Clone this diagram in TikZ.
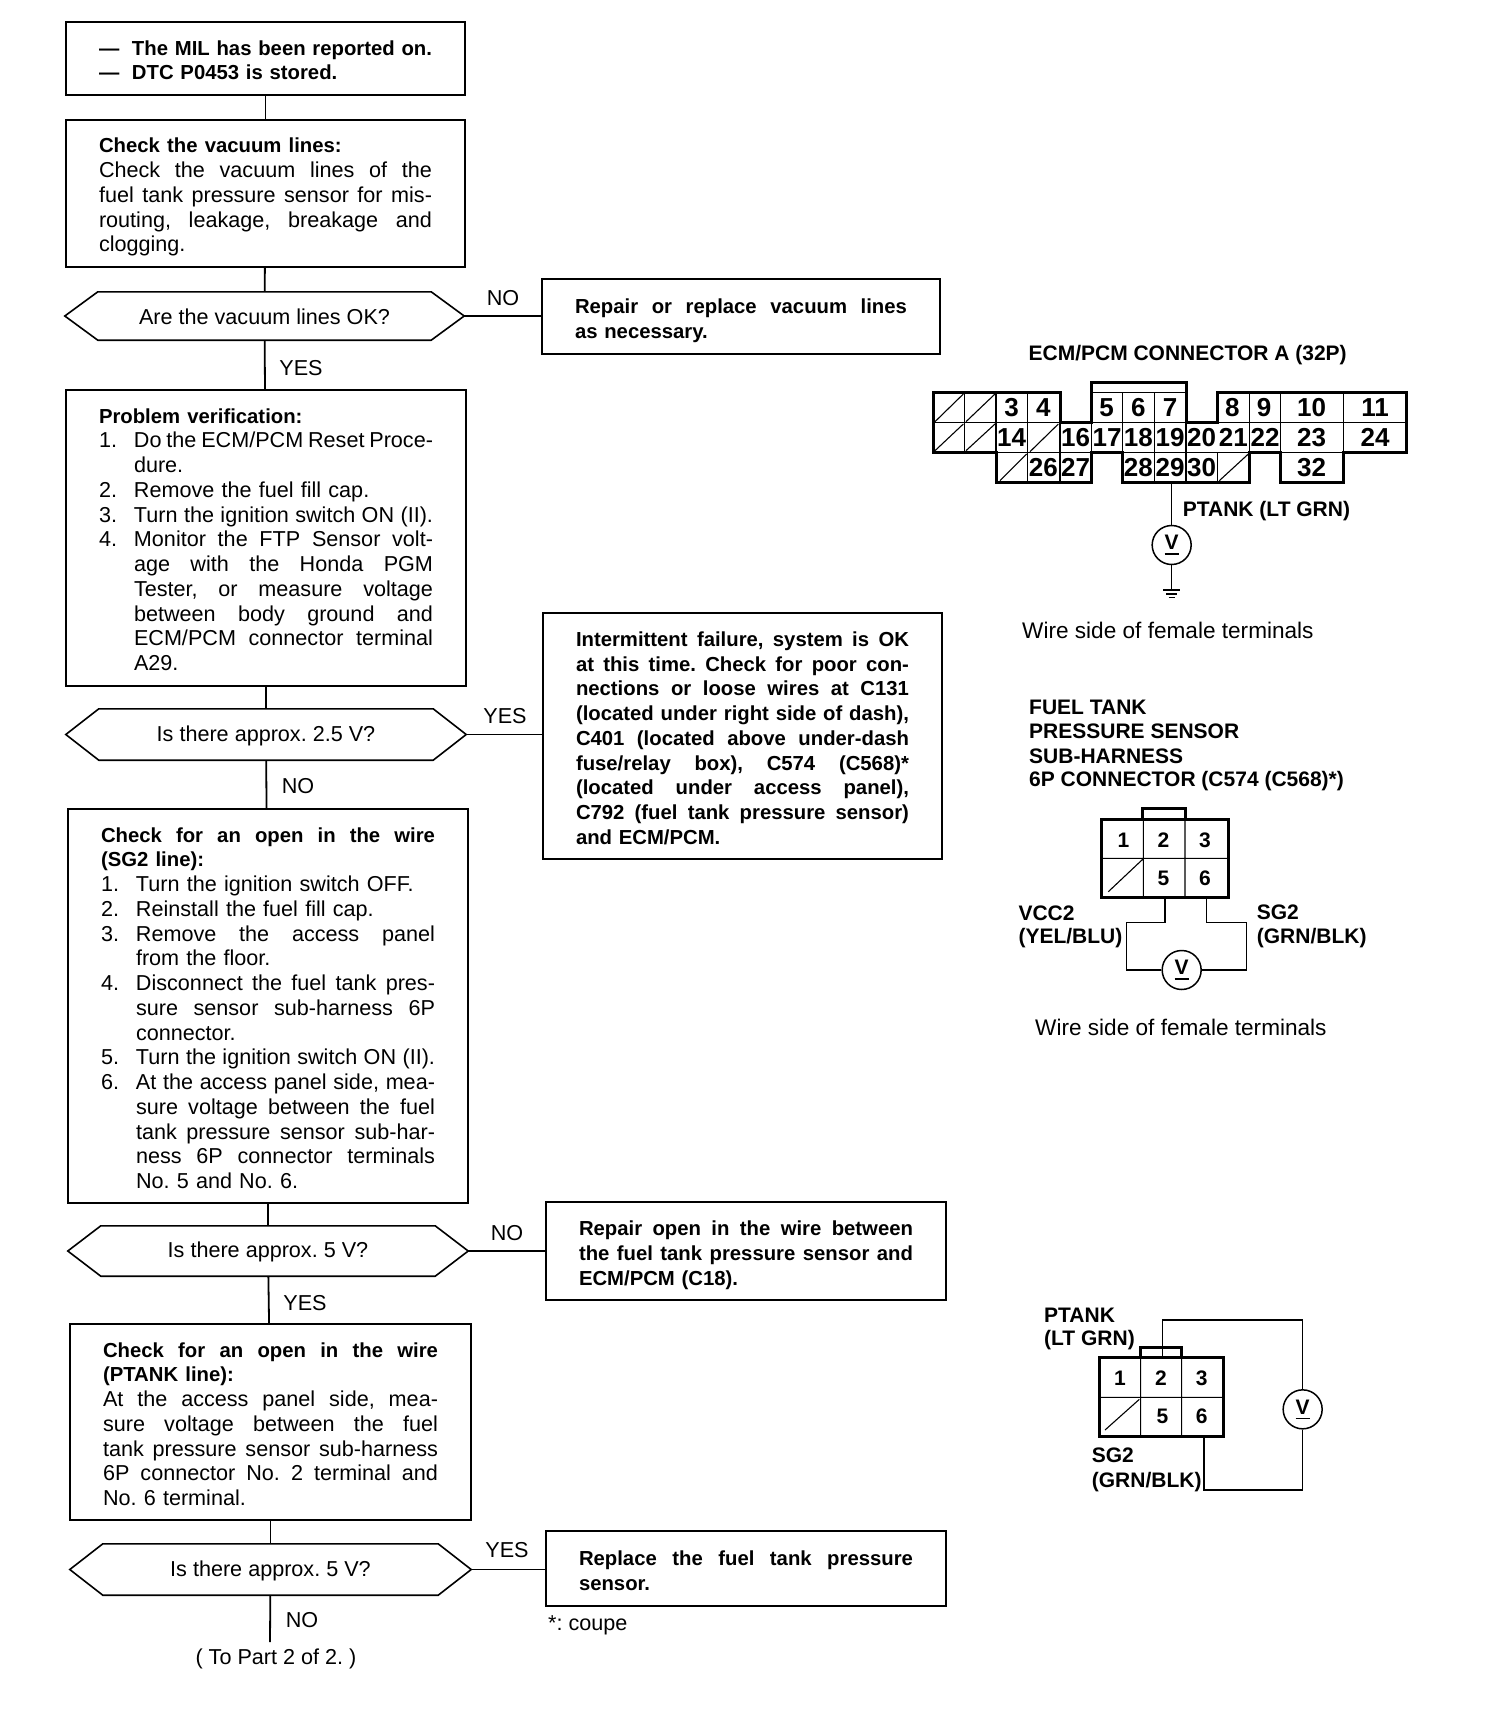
\documentclass[tikz,border=0pt]{standalone}
\usepackage{fontspec}
\setmainfont{Liberation Sans}
\frenchspacing
\newlength{\mywd}
\newcommand{\setsp}{\spaceskip=.278em plus 3em minus .09em\relax\xspaceskip=\spaceskip}
\newcommand{\jln}[2][0pt]{\hbox to\mywd{\setsp\kern#1\relax #2}}
\newcommand{\nln}[2][0pt]{\hbox to\mywd{\kern#1\relax #2\hfil}}
\newcommand{\jit}[2]{\hbox to\mywd{\setsp\hbox to35pt{#1\hfil}#2}}
\newcommand{\nit}[2]{\hbox to\mywd{\hbox to35pt{#1\hfil}#2\hfil}}
\newcommand{\ind}{35pt}
\newcommand{\hd}{\bfseries\fontsize{20.3}{24.75}\selectfont}
\newcommand{\VV}{\vbox{\hbox{V}\kern3.5pt\hrule height 1.6pt}}
\tikzset{
  reg/.style={font=\fontsize{21.6}{24.75}\selectfont},
  bld/.style={font=\fontsize{20.3}{24.75}\selectfont\bfseries},
  lbl/.style={reg,inner sep=0pt},
  blbl/.style={font=\fontsize{21}{24.75}\selectfont\bfseries,inner sep=0pt,anchor=west},
  num/.style={inner sep=0pt,font=\fontsize{26}{26}\selectfont\bfseries},
  numb/.style={inner sep=0pt,font=\fontsize{21}{21}\selectfont\bfseries},
  flow/.style={draw,line width=1.6pt,rectangle,inner xsep=33pt,inner ysep=0pt,reg},
  flowb/.style={flow,bld},
  dec/.style={rectangle,inner sep=0pt},
  wire/.style={line width=1.6pt},
  conn/.style={line width=1.8pt},
  thick out/.style={line width=3pt,line join=miter},
  thin in/.style={line width=1.1pt},
  vmeter/.style={circle,draw,line width=1.5pt,inner sep=0pt,minimum size=39pt,font=\fontsize{21}{21}\selectfont\bfseries},
}
% [style]{name}{x0}{y0}{x1}{y1}{top kern: twice the downward text shift}{lines}
\newcommand{\fbx}[8][flow]{%
  \pgfmathsetmacro{\cx}{(#3+#5)/2}\pgfmathsetmacro{\cy}{(#4+#6)/2}%
  \pgfmathsetmacro{\bw}{#5-#3-66}\pgfmathsetmacro{\bh}{#6-#4}%
  \setlength{\mywd}{\bw pt}%
  \node[#1,text width=\bw pt,minimum height=\bh pt] (#2) at (\cx,\cy) {\vbox{\kern#7pt\relax #8}};}
\newcommand{\dmd}[6]{%
  \pgfmathsetmacro{\cx}{(#2+#4)/2}\pgfmathsetmacro{\cy}{(#3+#5)/2}%
  \pgfmathsetmacro{\bw}{#4-#2}\pgfmathsetmacro{\bh}{#5-#3}%
  \node[dec,minimum width=\bw pt,minimum height=\bh pt] (#1) at (\cx,\cy) {};
  \draw[wire] (#1.west) -- ([xshift=33pt]#1.north west) -- ([xshift=-33pt]#1.north east)
     -- (#1.east) -- ([xshift=-33pt]#1.south east) -- ([xshift=33pt]#1.south west) -- cycle;
  \node[lbl] (#1t) at ([yshift=-1pt]#1) {#6};}
\begin{document}
\begin{tikzpicture}[x=1pt,y=-1pt]
\useasboundingbox (0,0) rectangle (1504,1716);

% --- flow column
\fbx[flowb]{b1}{66}{22}{465}{95}{3.3}{%
  \nln{\hbox to33pt{—\hfil}The MIL has been reported on.}
  \nln{\hbox to33pt{—\hfil}DTC P0453 is stored.}}
\fbx{b2}{66}{120}{465}{267}{7.6}{%
  \nln{\hd Check the vacuum lines:}
  \jln{Check the vacuum lines of the}
  \jln{fuel tank pressure sensor for mis-}
  \jln{routing, leakage, breakage and}
  \nln{clogging.}}
\dmd{d1}{65}{292}{464}{340}{Are the vacuum lines OK?}
\fbx[flowb]{r1}{542}{279}{940}{354}{8.8}{%
  \jln{Repair or replace vacuum lines}
  \nln{as necessary.}}
\fbx{b3}{66}{390}{466}{686}{3.3}{%
  \nln{\hd Problem verification:}
  \jit{1.}{Do the ECM/PCM Reset Proce-}
  \nln[\ind]{dure.}
  \nit{2.}{Remove the fuel fill cap.}
  \jit{3.}{Turn the ignition switch ON (II).}
  \jit{4.}{Monitor the FTP Sensor volt-}
  \jln[\ind]{age with the Honda PGM}
  \jln[\ind]{Tester, or measure voltage}
  \jln[\ind]{between body ground and}
  \jln[\ind]{ECM/PCM connector terminal}
  \nln[\ind]{A29.}}
\dmd{d2}{66}{709}{466}{760}{Is there approx. 2.5 V?}
\fbx[flowb]{r2}{543}{613}{942}{859}{4.4}{%
  \jln{Intermittent failure, system is OK}
  \jln{at this time. Check for poor con-}
  \jln{nections or loose wires at C131}
  \jln{(located under right side of dash),}
  \jln{C401 (located above under-dash}
  \jln{fuse/relay box), C574 (C568)*}
  \jln{(located under access panel),}
  \jln{C792 (fuel tank pressure sensor)}
  \nln{and ECM/PCM.}}
\fbx{b4}{68}{809}{468}{1203}{4.4}{%
  \jln{\hd Check for an open in the wire}
  \nln{\hd (SG2 line):}
  \nit{1.}{Turn the ignition switch OFF.}
  \nit{2.}{Reinstall the fuel fill cap.}
  \jit{3.}{Remove the access panel}
  \nln[\ind]{from the floor.}
  \jit{4.}{Disconnect the fuel tank pres-}
  \jln[\ind]{sure sensor sub-harness 6P}
  \nln[\ind]{connector.}
  \jit{5.}{Turn the ignition switch ON (II).}
  \jit{6.}{At the access panel side, mea-}
  \jln[\ind]{sure voltage between the fuel}
  \jln[\ind]{tank pressure sensor sub-har-}
  \jln[\ind]{ness 6P connector terminals}
  \nln[\ind]{No. 5 and No. 6.}}
\dmd{d3}{68}{1226}{468}{1276}{Is there approx. 5 V?}
\fbx[flowb]{r3}{546}{1202}{946}{1300}{8.8}{%
  \jln{Repair open in the wire between}
  \jln{the fuel tank pressure sensor and}
  \nln{ECM/PCM (C18).}}
\fbx{b5}{70}{1324}{471}{1520}{4.4}{%
  \jln{\hd Check for an open in the wire}
  \nln{\hd (PTANK line):}
  \jln{At the access panel side, mea-}
  \jln{sure voltage between the fuel}
  \jln{tank pressure sensor sub-harness}
  \jln{6P connector No. 2 terminal and}
  \nln{No. 6 terminal.}}
\dmd{d4}{70}{1544}{471}{1595}{Is there approx. 5 V?}
\fbx[flowb]{r4}{546}{1531}{946}{1606}{4.4}{%
  \jln{Replace the fuel tank pressure}
  \nln{sensor.}}
\coordinate (endd4) at (270,1642);

\draw[conn] (b1) -- (b2);
\draw[conn] (b2) -- (d1);
\draw[conn] (d1) -- (b3);
\draw[conn] (b3) -- (d2);
\draw[conn] (d2) -- (b4);
\draw[conn] (b4) -- (d3);
\draw[conn] (d3) -- (b5);
\draw[conn] (b5) -- (d4);
\draw[conn] (d4) -- (endd4);
\draw[conn] (d1.east) -- (d1.east -| r1.west);
\draw[conn] (d2.east) -- (d2.east -| r2.west);
\draw[conn] (d3.east) -- (d3.east -| r3.west);
\draw[conn] (d4.east) -- (d4.east -| r4.west);

\node[lbl] (t1) at (503,298) {NO};
\node[lbl] (t2) at (301,368) {YES};
\node[lbl] (t3) at (505,716) {YES};
\node[lbl] (t4) at (298,786) {NO};
\node[lbl] (t5) at (507,1233) {NO};
\node[lbl] (t6) at (305,1303) {YES};
\node[lbl] (t7) at (507,1550) {YES};
\node[lbl] (t8) at (302,1620) {NO};
\node[lbl] (t9) at (276,1659) {( To Part 2 of 2. )};
\node[lbl,anchor=west] (t10) at (548,1625) {*: coupe};

% --- ECM/PCM connector
\begin{scope}[shift={(920,330)},x=0.33333pt,y=-0.33333pt]
\node[blbl,anchor=center] (ecmt) at (803,76) {ECM/PCM CONNECTOR A (32P)};
\draw[thin in] (40,278) -- (420,278) (515,278) -- (798,278) (893,278) -- (1460,278)
  (40,368) -- (228,368) (228,368) -- (1460,368) (515,188) -- (798,188);
\draw[thin in] (133,188) -- (133,368) (228,188) -- (228,458) (323,188) -- (323,458)
  (420,278) -- (420,458) (515,278) -- (515,368) (608,188) -- (608,458) (703,188) -- (703,458)
  (798,278) -- (798,458) (893,368) -- (893,458) (988,188) -- (988,368)
  (1082,188) -- (1082,368) (1270,188) -- (1270,368);
\draw[thin in] (45,275) -- (130,192) (138,275) -- (225,192) (45,362) -- (130,282) (138,362) -- (225,282)
  (330,365) -- (415,282) (240,452) -- (320,372) (898,452) -- (985,372);
\draw[thick out] (40,188) -- (420,188) -- (420,278) -- (515,278) -- (515,158) -- (798,158) -- (798,278)
  -- (893,278) -- (893,188) -- (1460,188) -- (1460,368) -- (1270,368) -- (1270,458) -- (1082,458)
  -- (1082,368) -- (988,368) -- (988,458) -- (608,458) -- (608,368) -- (515,368) -- (515,458)
  -- (228,458) -- (228,368) -- (40,368) -- cycle;
\foreach \t/\px/\py in {3/275/233,4/370/233,5/560/233,6/655/233,7/750/233,8/937/233,9/1032/233,10/1175/233,11/1365/233,
   14/275/323,16/467/323,17/561/323,18/655/323,19/750/323,20/845/323,21/940/323,22/1035/323,23/1175/323,24/1365/323,
   26/370/413,27/467/413,28/655/413,29/750/413,30/845/413,32/1175/413}
  \node[num] (e\t) at (\px,\py) {\t};
\node[vmeter] (v1) at (755,645) {\VV};
\coordinate (w1) at (755,458);
\coordinate (g1) at (755,780);
\draw[wire] (w1) -- (v1);
\draw[wire] (v1) -- (g1);
\draw[wire] (730,780) -- (780,780) (738,792) -- (772,792) (746,803) -- (764,803);
\node[blbl] (ptk) at (788,543) {PTANK (LT GRN)};
\end{scope}
\node[lbl,anchor=west,font=\fontsize{22.6}{24}\selectfont] (wsa) at (1022,630) {Wire side of female terminals};

% --- sub-harness connector, first
\node[blbl] (ft1) at (1029,707) {FUEL TANK};
\node[blbl] (ft2) at (1029,731) {PRESSURE SENSOR};
\node[blbl] (ft3) at (1029,756) {SUB-HARNESS};
\node[blbl] (ft4) at (1029,781) {6P CONNECTOR (C574 (C568)*)};
\begin{scope}[shift={(1000,780)},x=0.33333pt,y=-0.33333pt]
\draw[thin in] (305,235) -- (685,235) (430,118) -- (430,352) (555,118) -- (555,352) (325,335) -- (428,238);
\draw[thick out] (305,118) rectangle (685,352);
\draw[thick out] (428,118) -- (428,85) -- (555,85) -- (555,118);
\foreach \t/\px/\py in {1/370/180,2/490/180,3/615/180,5/490/295,6/615/295}
  \node[numb] (f\t) at (\px,\py) {\t};
\node[vmeter] (v2) at (545,570) {\VV};
\draw[wire] (495,352) -- (495,428) -- (380,428) -- (380,570) -- (v2);
\draw[wire] (620,352) -- (620,428) -- (740,428) -- (740,570) -- (v2);
\node[blbl] (fa) at (55,400) {VCC2};
\node[blbl] (fb) at (55,473) {(YEL/BLU)};
\node[blbl] (fc) at (770,397) {SG2};
\node[blbl] (fd) at (770,473) {(GRN/BLK)};
\end{scope}
\node[lbl,anchor=west,font=\fontsize{22.6}{24}\selectfont] (wsb) at (1035,1027) {Wire side of female terminals};

% --- sub-harness connector, second
\begin{scope}[shift={(1020,1290)},x=0.33333pt,y=-0.33333pt]
\draw[thin in] (238,322) -- (610,322) (362,203) -- (362,438) (485,203) -- (485,438) (255,420) -- (358,328);
\draw[thick out] (238,203) rectangle (610,438);
\draw[thick out] (360,203) -- (360,172) -- (485,172) -- (485,203);
\foreach \t/\px/\py in {1/300/265,2/423/265,3/545/265,5/427/380,6/545/380}
  \node[numb] (h\t) at (\px,\py) {\t};
\node[vmeter] (v3) at (848,358) {\VV};
\draw[wire] (428,203) -- (428,90) -- (848,90) -- (v3);
\draw[wire] (v3) -- (848,600) -- (552,600) -- (552,438);
\node[blbl] (ha) at (72,75) {PTANK};
\node[blbl] (hb) at (72,150) {(LT GRN)};
\node[blbl] (hc) at (215,495) {SG2};
\node[blbl] (hd) at (215,575) {(GRN/BLK)};
\end{scope}
\end{tikzpicture}
\end{document}
